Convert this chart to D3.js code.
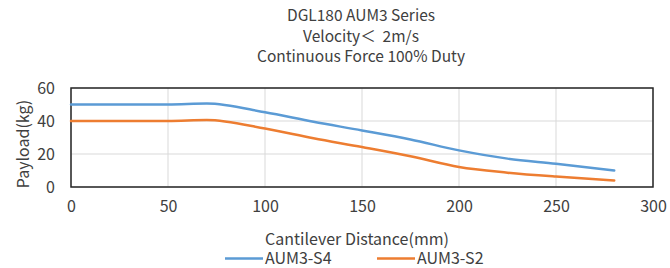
<!DOCTYPE html>
<html>
<head>
<meta charset="utf-8">
<script src="https://cdn.jsdelivr.net/npm/d3@7"></script>
<style>
  body { margin: 0; background: #fff; }
  svg text { font-family: "Noto Sans CJK SC", "Noto Sans", sans-serif; fill: #404040; }
</style>
</head>
<body>
<svg id="chart" width="670" height="268"></svg>
<script>
// Chart data
var titles = ['DGL180 AUM3 Series', 'Velocity\uFF1C\u00A0\u00A02m/s', 'Continuous Force 100% Duty']
var distance = [0, 50, 70, 100, 125, 150, 175, 200, 225, 250, 280]
var s4 = [50, 50, 50.6, 45.3, 39.5, 34.3, 28.8, 22.2, 17.2, 14.1, 10]
var s2 = [40, 40, 40.6, 35.4, 29.5, 24.2, 18.6, 12.1, 8.7, 6.3, 4]
var xTicks = [0, 50, 100, 150, 200, 250, 300]
var yTicks = [0, 20, 40, 60]
var seriesNames = ['AUM3-S4', 'AUM3-S2']
var colors = ['#5b9bd5', '#ed7d31']

var svg = d3.select('#chart')

// Plot area
var pLeft = 71, pRight = 653, pTop = 88, pBottom = 187

var x = d3.scaleLinear().domain([0, 300]).range([pLeft, pRight])
var y = d3.scaleLinear().domain([0, 60]).range([pBottom, pTop])

// Titles
svg.selectAll('.title')
  .data(titles)
  .enter().append('text')
  .attr('x', 361)
  .attr('y', (d, i) => 21 + i * 20.6)
  .attr('text-anchor', 'middle')
  .style('font-size', '15.5px')
  .text(d => d)

// Grid lines
var grid = svg.append('g')
grid.selectAll('.vg')
  .data(xTicks)
  .enter().append('line')
  .attr('x1', d => x(d)).attr('x2', d => x(d))
  .attr('y1', pTop).attr('y2', pBottom)
  .attr('stroke', '#d9d9d9').attr('stroke-width', 1)
grid.selectAll('.hg')
  .data(yTicks)
  .enter().append('line')
  .attr('x1', pLeft).attr('x2', pRight)
  .attr('y1', d => y(d)).attr('y2', d => y(d))
  .attr('stroke', '#d9d9d9').attr('stroke-width', 1)

// Border
svg.append('rect')
  .attr('x', pLeft).attr('y', pTop)
  .attr('width', pRight - pLeft).attr('height', pBottom - pTop)
  .attr('fill', 'none').attr('stroke', '#262626').attr('stroke-width', 1.5)

// Axes (labels only)
var xAxis = d3.axisBottom(x).tickValues(xTicks).tickSize(0).tickPadding(14)
svg.append('g')
  .attr('transform', 'translate(0,' + pBottom + ')')
  .call(xAxis)
  .call(g => g.select('.domain').remove())
  .selectAll('text')
  .style('font-size', '16px')
  .attr('fill', '#404040')

var yAxis = d3.axisLeft(y).tickValues(yTicks).tickSize(0).tickPadding(16)
svg.append('g')
  .attr('transform', 'translate(' + pLeft + ',0)')
  .call(yAxis)
  .call(g => g.select('.domain').remove())
  .selectAll('text')
  .style('font-size', '16px')
  .attr('fill', '#404040')

svg.selectAll('.tick text').attr('font-family', null)

// Axis titles
svg.append('text')
  .attr('x', 357).attr('y', 245)
  .attr('text-anchor', 'middle')
  .style('font-size', '16px')
  .text('Cantilever Distance(mm)')

svg.append('text')
  .attr('transform', 'translate(29,144) rotate(-90)')
  .attr('text-anchor', 'middle')
  .style('font-size', '16px')
  .text('Payload(kg)')

// Lines
var line = d3.line()
  .x((d, i) => x(distance[i]))
  .y(d => y(d))
  .curve(d3.curveMonotoneX)

;[s4, s2].forEach(function(values, i) {
  svg.append('path')
    .attr('d', line(values))
    .attr('fill', 'none')
    .attr('stroke', colors[i])
    .attr('stroke-width', 2.5)
    .attr('stroke-linecap', 'round')
})

// Legend
var legend = svg.append('g')
var legendX = [225, 377]
seriesNames.forEach(function(name, i) {
  legend.append('line')
    .attr('x1', legendX[i]).attr('x2', legendX[i] + 38)
    .attr('y1', 258.5).attr('y2', 258.5)
    .attr('stroke', colors[i]).attr('stroke-width', 2.5)
  legend.append('text')
    .attr('x', legendX[i] + 40).attr('y', 264)
    .style('font-size', '16px')
    .text(name)
})
</script>
</body>
</html>
